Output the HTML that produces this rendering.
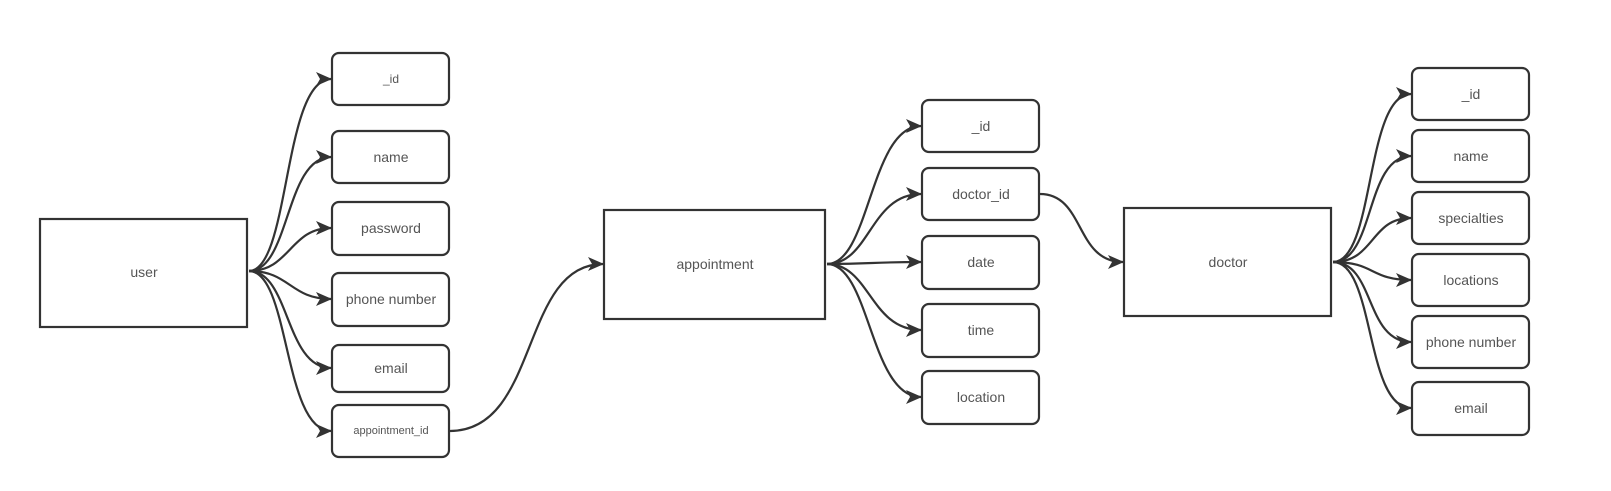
<!DOCTYPE html>
<html><head><style>
body{margin:0;background:#fff;}
svg{display:block;}
text{font-family:"Liberation Sans",sans-serif;font-size:14px;fill:#555;text-anchor:middle;dominant-baseline:central;}
</style></head><body>
<svg width="1611" height="491" viewBox="0 0 1611 491" xmlns="http://www.w3.org/2000/svg">
<defs><marker id="a" markerWidth="16" markerHeight="16" refX="15" refY="8" orient="auto" markerUnits="userSpaceOnUse"><path d="M0,1 L16,8 L0,15 L4,8 Z" fill="#333"/></marker></defs>
<g fill="none" stroke="#333" stroke-width="2.2">
<rect x="40" y="219" width="207" height="108"/>
<rect x="604" y="210" width="221" height="109"/>
<rect x="1124" y="208" width="207" height="108"/>
</g>
<g fill="#fff" stroke="#333" stroke-width="2.2">
<rect x="332" y="53" width="117" height="52" rx="7"/>
<rect x="332" y="131" width="117" height="52" rx="7"/>
<rect x="332" y="202" width="117" height="53" rx="7"/>
<rect x="332" y="273" width="117" height="53" rx="7"/>
<rect x="332" y="345" width="117" height="47" rx="7"/>
<rect x="332" y="405" width="117" height="52" rx="7"/>
<rect x="922" y="100" width="117" height="52" rx="7"/>
<rect x="922" y="168" width="117" height="52" rx="7"/>
<rect x="922" y="236" width="117" height="53" rx="7"/>
<rect x="922" y="304" width="117" height="53" rx="7"/>
<rect x="922" y="371" width="117" height="53" rx="7"/>
<rect x="1412" y="68" width="117" height="52" rx="7"/>
<rect x="1412" y="130" width="117" height="52" rx="7"/>
<rect x="1412" y="192" width="117" height="52" rx="7"/>
<rect x="1412" y="254" width="117" height="52" rx="7"/>
<rect x="1412" y="316" width="117" height="52" rx="7"/>
<rect x="1412" y="382" width="117" height="53" rx="7"/>
</g>
<g fill="none" stroke="#333" stroke-width="2.2" marker-end="url(#a)">
<path d="M249,271 C290,271 283,79 331,79"/>
<path d="M249,271 C290,271 285,157 331,157"/>
<path d="M249,271 C290,271 290,228 331,228"/>
<path d="M249,271 C290,271 290,299 331,299"/>
<path d="M249,271 C290,271 285,368 331,368"/>
<path d="M249,271 C290,271 283,431 331,431"/>
<path d="M450,431 C540,431 520,264 603,264"/>
<path d="M827,264 C870,264 870,126 921,126"/>
<path d="M827,264 C870,264 870,194 921,194"/>
<path d="M827,264 C870,264 875,262 921,262"/>
<path d="M827,264 C870,264 870,330 921,330"/>
<path d="M827,264 C870,264 870,397 921,397"/>
<path d="M1040,194 C1085,194 1075,262 1123,262"/>
<path d="M1333,262 C1375,262 1365,94 1411,94"/>
<path d="M1333,262 C1375,262 1365,156 1411,156"/>
<path d="M1333,262 C1375,262 1370,218 1411,218"/>
<path d="M1333,262 C1375,262 1370,280 1411,280"/>
<path d="M1333,262 C1375,262 1365,342 1411,342"/>
<path d="M1333,262 C1375,262 1365,408 1411,408"/>
</g>
<text x="144" y="272">user</text>
<text x="715" y="264">appointment</text>
<text x="1228" y="262">doctor</text>
<text x="391" y="79" style="font-size:12px">_id</text>
<text x="391" y="157">name</text>
<text x="391" y="228">password</text>
<text x="391" y="299">phone number</text>
<text x="391" y="368">email</text>
<text x="391" y="431" style="font-size:11px">appointment_id</text>
<text x="981" y="126">_id</text>
<text x="981" y="194">doctor_id</text>
<text x="981" y="262">date</text>
<text x="981" y="330">time</text>
<text x="981" y="397">location</text>
<text x="1471" y="94">_id</text>
<text x="1471" y="156">name</text>
<text x="1471" y="218">specialties</text>
<text x="1471" y="280">locations</text>
<text x="1471" y="342">phone number</text>
<text x="1471" y="408">email</text>
</svg>
</body></html>
